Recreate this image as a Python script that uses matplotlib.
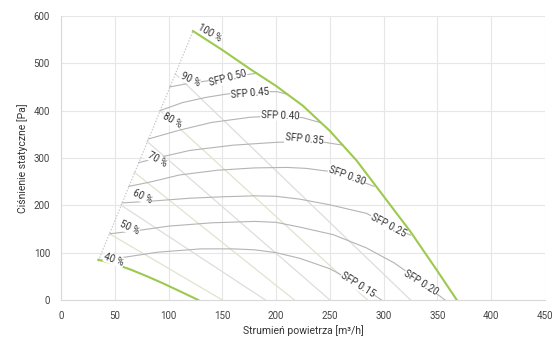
import numpy as np
import matplotlib.pyplot as plt

plt.rcParams['font.family'] = ['Roboto', 'DejaVu Sans']

# green fan curves (100 % and 40 %)
fan100_x = [122.7, 150, 175, 200, 225, 250, 275, 300, 325, 350, 368]
fan100_y = [568, 528, 489, 452, 410, 357, 294, 219, 144, 61, 0]
fan40_x = [34.7, 50, 65, 80, 95, 110, 127.6]
fan40_y = [85, 76, 64, 50, 35, 19, 0]

# dotted left boundary
edge_x = [34.7, 122.7]
edge_y = [83, 568]

# gray curves labelled with SFP
sfp_curves = {
    '0.15': ([34.7, 61, 90, 130, 160, 180, 200, 222, 250, 276, 298],
             [83, 91, 101, 108, 108, 106, 100, 88, 66, 34, 0]),
    '0.20': ([45.8, 72, 100, 140, 180, 200, 222, 253, 284, 310, 335, 357],
             [140, 147, 156, 163, 166, 164, 154, 138, 110, 78, 38, 0]),
    '0.25': ([56.7, 85, 120, 150, 180, 200, 222, 250, 284, 304, 325],
             [205, 209, 215, 218, 220, 219, 213, 201, 183, 158, 137]),
    '0.30': ([63, 82.7, 110, 145, 180, 210, 228, 248, 266, 291],
             [240, 249, 264, 274, 279, 280, 278, 272, 262, 240]),
    '0.35': ([72.1, 94.8, 120, 160, 200, 226, 245, 262],
             [290, 303, 316, 327, 333, 335, 333, 327]),
    '0.40': ([81.1, 110.6, 140, 176, 204, 225, 242],
             [340, 359, 375, 386, 389, 385, 374]),
    '0.45': ([92, 113, 135, 154, 180, 201, 211],
             [400, 417, 428, 435, 440, 440, 434]),
    '0.50': ([101, 120, 140, 155, 170, 182],
             [450, 458, 464, 469, 475, 479]),
}

# light diagonal lines
diag_x0 = [45, 56, 68, 80, 92, 106]
diag_y0 = [140, 200, 270, 335, 400, 478]
diag_x1 = [150, 190, 217, 250, 285, 325]

pct_labels = ['40 %', '50 %', '60 %', '70 %', '80 %', '90 %', '100 %']
pct_x = [49.3, 63.2, 75.3, 89.3, 103, 120, 138.5]
pct_y = [85, 152, 218, 297, 379, 466, 564]
pct_rot = [-20, -25, -25, -30, -30, -25, -30]

sfp_lx = {'0.50': 155.3, '0.45': 175.7, '0.40': 203.6, '0.35': 225.9,
          '0.30': 265.9, '0.25': 304, '0.20': 334.7, '0.15': 276}
sfp_ly = {'0.50': 468, '0.45': 436, '0.40': 390, '0.35': 339,
          '0.30': 263, '0.25': 157, '0.20': 36, '0.15': 32}
sfp_rot = {'0.50': 15, '0.45': 5, '0.40': -2, '0.35': -6,
           '0.30': -20, '0.25': -28, '0.20': -32, '0.15': -32}

fig = plt.figure(figsize=(5.55, 3.49), dpi=100)
ax = fig.add_axes([0.11, 0.1404, 0.872, 0.814])

for i in range(len(diag_x0)):
    c = '#e0e3cf' if i % 2 == 0 else '#dddddd'
    ax.plot([diag_x0[i], diag_x1[i]], [diag_y0[i], 0], color=c, lw=0.9, zorder=2)

for k, (xs, ys) in sfp_curves.items():
    ax.plot(xs, ys, color='#b4b4b4', lw=0.8, zorder=3)

ax.plot(edge_x, edge_y, color='#c0c0c0', lw=0.8, ls=(0, (1.2, 1.5)), zorder=3)
ax.plot(fan100_x, fan100_y, color='#9cc94e', lw=1.5, zorder=4)
ax.plot(fan40_x, fan40_y, color='#9cc94e', lw=1.5, zorder=4)

box = dict(facecolor='white', edgecolor='none', pad=0.3)
for t, x, y, r in zip(pct_labels, pct_x, pct_y, pct_rot):
    ax.text(x, y, t, rotation=r, fontsize=7, color='#333333', ha='center', va='center',
            bbox=box, zorder=5, rotation_mode='anchor')
for k in sfp_curves:
    ax.text(sfp_lx[k], sfp_ly[k], 'SFP ' + k, rotation=sfp_rot[k], fontsize=7, color='#333333',
            ha='center', va='center', bbox=box, zorder=5, rotation_mode='anchor')

ax.set_xlim(0, 450)
ax.set_ylim(0, 600)
ax.set_xticks(np.arange(0, 451, 50))
ax.set_yticks(np.arange(0, 601, 100))
ax.grid(color='#e6e6e6', lw=0.8)
ax.set_axisbelow(True)
for s in ['top', 'right']:
    ax.spines[s].set_visible(False)
for s in ['left', 'bottom']:
    ax.spines[s].set_color('#d9d9d9')
ax.tick_params(length=0, labelsize=7, colors='#444444', pad=8)
ax.set_xlabel('Strumień powietrza [m³/h]', fontsize=7.5, color='#333333', labelpad=3)
ax.set_ylabel('Ciśnienie statyczne [Pa]', fontsize=7.5, color='#333333', labelpad=4)

fig.savefig('out.png', dpi=100)
